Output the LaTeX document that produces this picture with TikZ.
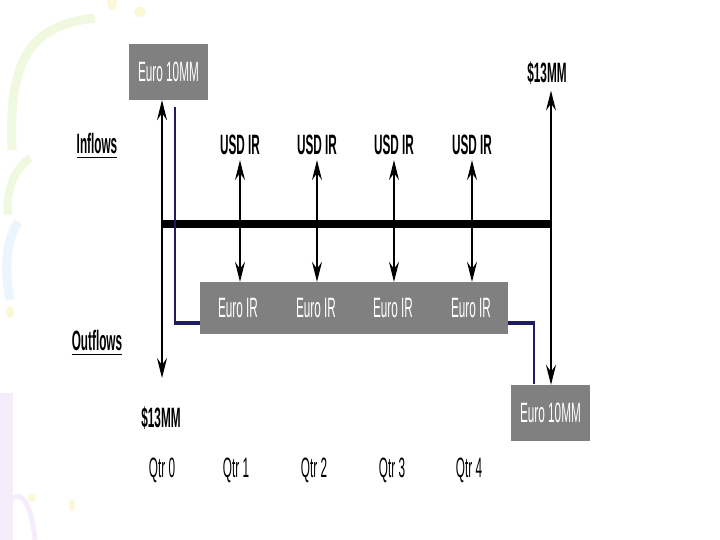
\documentclass[tikz,border=0pt]{standalone}
\usepackage{fontspec}
\setmainfont{Liberation Sans}
\newfontfamily\nar[FakeStretch=0.42]{Liberation Sans}
\usetikzlibrary{arrows.meta}
\definecolor{boxgray}{RGB}{128,128,128}
\definecolor{navyc}{RGB}{32,28,96}
\definecolor{decoGreen}{RGB}{240,248,224}
\definecolor{decoYellow}{RGB}{251,248,215}
\definecolor{decoBlue}{RGB}{234,245,253}
\definecolor{decoPurple}{RGB}{245,237,252}
\begin{document}
\begin{tikzpicture}[x=1pt,y=-1pt,
  lbl/.style={font=\nar\fontsize{28}{30}\selectfont, inner sep=0pt},
  blbl/.style={font=\nar\bfseries\fontsize{28}{30}\selectfont, inner sep=0pt},
  graybox/.style={fill=boxgray, draw=none, inner sep=0pt},
  wlbl/.style={lbl, text=white},
  flow/.style={line width=1.6pt, {Stealth[length=20pt,width=10pt,inset=7pt]}-{Stealth[length=20pt,width=10pt,inset=7pt]}},
  navyv/.style={draw=navyc, line width=2pt},
  navyh/.style={draw=navyc, line width=3.6pt},
  uline/.style={line width=1.8pt}
]
\useasboundingbox (0,0) rectangle (720,540);
\fill[white] (0,0) rectangle (720,540);
% faint background decorations
\draw[decoGreen, line width=9pt] (12,150) .. controls (8,60) and (30,25) .. (95,18);
\draw[decoGreen, line width=8pt] (8,215) .. controls (6,190) and (14,170) .. (30,158);
\draw[decoBlue, line width=9pt] (10,300) .. controls (4,270) and (6,240) .. (18,222);
\fill[decoYellow] (112,2) ellipse (5pt and 8pt);
\fill[decoYellow] (140,12) ellipse (6pt and 5pt);
\fill[decoYellow] (10,312) ellipse (4pt and 6pt);
\fill[decoYellow] (32,498) ellipse (4pt and 4pt);
\fill[decoYellow] (72,505) ellipse (3pt and 6pt);
\fill[decoPurple] (0,393) rectangle (13,540);
\draw[decoPurple, line width=5pt] (8,505) .. controls (15,490) and (30,490) .. (35,540);

% boxes
\node[graybox, minimum width=79pt, minimum height=56pt] (box1) at (168.5,72) {};
\node[wlbl] (box1t) at (box1.center) {Euro 10MM};
\node[graybox, minimum width=308pt, minimum height=52pt] (euro) at (354,308) {};
\node[graybox, minimum width=79pt, minimum height=56pt] (box2) at (550.5,413) {};
\node[wlbl] (box2t) at (box2.center) {Euro 10MM};

\node[wlbl] (e1) at (238,308) {Euro IR};
\node[wlbl] (e2) at (316,308) {Euro IR};
\node[wlbl] (e3) at (393,308) {Euro IR};
\node[wlbl] (e4) at (471,308) {Euro IR};

% labels
\node[blbl] (inf) at (97,143) {Inflows};
\node[blbl] (outf) at (97,340) {Outflows};
\draw[uline] ([yshift=-4pt]inf.south west) -- ([yshift=-4pt]inf.south east);
\draw[uline] ([yshift=-4pt]outf.south west) -- ([yshift=-4pt]outf.south east);

\node[blbl, inner ysep=5pt] (u1) at (240,145) {USD IR};
\node[blbl, inner ysep=5pt] (u2) at (317,145) {USD IR};
\node[blbl, inner ysep=5pt] (u3) at (394,145) {USD IR};
\node[blbl, inner ysep=5pt] (u4) at (472,145) {USD IR};

\node[blbl, inner ysep=6pt] (r13) at (547,73) {\$13MM};
\node[blbl] (l13) at (161,418) {\$13MM};

\node[lbl] (q0) at (162,470) {Qtr 0};
\node[lbl] (q1) at (236,470) {Qtr 1};
\node[lbl] (q2) at (314,470) {Qtr 2};
\node[lbl] (q3) at (392,470) {Qtr 3};
\node[lbl] (q4) at (469,470) {Qtr 4};

% timeline
\coordinate (t0) at (162,224);
\coordinate (t1) at (551,224);
\draw[line width=7.5pt] (t0) -- (t1);

% navy connectors
\coordinate (nl0) at (175,107);
\coordinate (nl1) at (175,323);
\coordinate (nl2) at (200,323);
\draw[navyv] (nl0) -- (nl1);
\draw[navyh] ([xshift=-1pt]nl1) -- (nl2);
\coordinate (nr0) at (508,323);
\coordinate (nr1) at (534,323);
\coordinate (nr2) at (534,384);
\draw[navyh] (nr0) -- ([xshift=1pt]nr1);
\draw[navyv] (nr1) -- (nr2);

% flow arrows
\coordinate (lbot) at (162,378);
\draw[flow] (box1.south -| lbot) -- (lbot);
\draw[flow] (r13.south -| t1) -- (box2.north -| t1);
\draw[flow] (u1.south) -- (u1.south |- euro.north);
\draw[flow] (u2.south) -- (u2.south |- euro.north);
\draw[flow] (u3.south) -- (u3.south |- euro.north);
\draw[flow] (u4.south) -- (u4.south |- euro.north);
\end{tikzpicture}
\end{document}
